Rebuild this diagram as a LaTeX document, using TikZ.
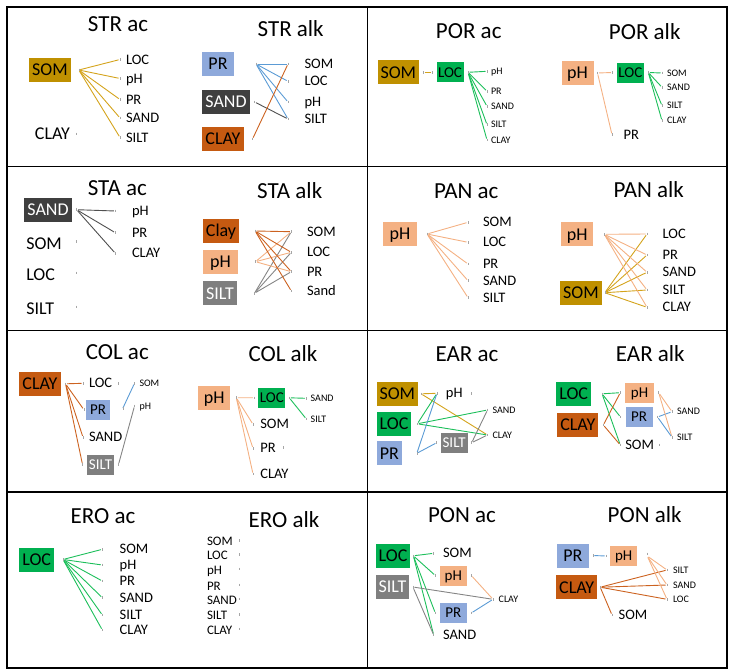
\documentclass[tikz,border=0pt]{standalone}
\usepackage{fontspec}
\setmainfont{Carlito}

\definecolor{cSom}{HTML}{BF9000}
\definecolor{cLoc}{HTML}{00B050}
\definecolor{cPr}{HTML}{8EA9DB}
\definecolor{cSand}{HTML}{3F3F3F}
\definecolor{cClay}{HTML}{C55A11}
\definecolor{cPh}{HTML}{F4B183}
\definecolor{cSilt}{HTML}{7F7F7F}
\definecolor{lSom}{HTML}{D4A31C}
\definecolor{lLoc}{HTML}{1DBF5B}
\definecolor{lPr}{HTML}{5B9BD5}
\definecolor{lSand}{HTML}{505050}
\definecolor{lClay}{HTML}{CC6220}
\definecolor{lPh}{HTML}{F4B183}
\definecolor{lSilt}{HTML}{858585}

\tikzset{
  ttl/.style={font=\fontsize{23}{26}\selectfont},
  bx/.style={fill=#1, inner xsep=3pt, inner ysep=0pt, minimum width=32pt,
    minimum height=24pt, text height=11.6pt, text depth=0pt,
    outer xsep=6pt, outer ysep=0pt, font=\fontsize{18}{20}\selectfont},
  sbx/.style={bx=#1, inner xsep=1.5pt, minimum width=27pt, minimum height=20pt,
    text height=9.7pt, outer xsep=4.5pt, font=\fontsize{15}{17}\selectfont},
  lbl/.style={inner sep=0pt, outer xsep=6pt, outer ysep=0pt, text height=9.3pt,
    text depth=0pt, font=\fontsize{14.5}{16}\selectfont},
  big/.style={lbl, text height=11.6pt, font=\fontsize{18}{20}\selectfont},
  sml/.style={lbl, outer xsep=5pt, text height=6.4pt, font=\fontsize{10}{12}\selectfont},
  mid/.style={lbl, outer xsep=0pt, text height=8.4pt, font=\fontsize{13}{15}\selectfont},
  ln/.style={draw=#1, line width=0.9pt, shorten <=1.5pt, shorten >=1.5pt},
  pmc/.style={draw=black!35, line width=0.5pt},
  tbl/.style={line width=1.2pt}
}
% tiny port tick next to a connector end
\newcommand\pmk[1]{\draw[pmc] (#1) ++(0,-1.3) -- ++(0,2.6);}

\begin{document}
\begin{tikzpicture}[x=1pt,y=-1pt]
\useasboundingbox (0,0) rectangle (732,672);

% table
\draw[tbl] (7,7) rectangle (727,668);
\draw[tbl] (367.5,7) -- (367.5,668);
\foreach \y in {166.5,330.5,492} \draw[tbl] (7,\y) -- (727,\y);

% STR ac
\node[ttl] (str1) at (118,24) {STR ac};
\node[bx=cSom, outer xsep=8pt] (str1som) at (50,70) {SOM};
\node[big, anchor=east] (str1clay) at (76,134) {CLAY};
\foreach \n/\s/\y in {loc/LOC/59.5, ph/pH/78.5, pr/PR/99.5, sand/SAND/118, silt/SILT/137.5}{
  \node[lbl, anchor=west] (str1\n) at (120,\y) {\s};
  \draw[ln=lSom] (str1som.east) -- (str1\n.west);
  \pmk{str1\n.west}
}
\foreach \p in {str1som.east, str1clay.east}{\pmk{\p}}

% STR alk
\node[ttl] (str2) at (290.7,28.7) {STR alk};
\node[bx=cPr, outer xsep=22pt] (str2pr) at (218,64) {PR};
\node[bx=cSand, text=white, outer xsep=5pt] (str2sand) at (226,102) {SAND};
\node[bx=cClay, outer xsep=9pt] (str2clay) at (223,139) {CLAY};
\foreach \n/\s/\y in {som/SOM/64, loc/LOC/81.3, ph/pH/102, silt/SILT/119}{
  \node[lbl, anchor=west, outer xsep=16.5pt] (str2\n) at (288,\y) {\s};
  \draw[ln=lPr] (str2pr.east) -- (str2\n.west);
  \pmk{str2\n.west}
}
\draw[ln=lSand] (str2sand.east) -- (str2silt.west);
\draw[ln=lClay] (str2clay.east) -- (str2som.west);
\foreach \p in {str2pr.east, str2sand.east, str2clay.east}{\pmk{\p}}

% POR ac
\node[ttl] (por1) at (468.7,31.3) {POR ac};
\node[bx=cSom, outer xsep=4pt] (por1som) at (398.3,72.3) {SOM};
\node[sbx=cLoc] (por1loc) at (450,72.3) {LOC};
\draw[ln=lSom] (por1som.east) -- (por1loc.west);
\foreach \n/\s/\y in {ph/pH/71.3, pr/PR/91.3, sand/SAND/106.3, silt/SILT/124.7, clay/CLAY/140}{
  \node[sml, anchor=west, outer xsep=4pt] (por1\n) at (487,\y) {\s};
  \draw[ln=lLoc] (por1loc.east) -- (por1\n.west);
  \pmk{por1\n.west}
}
\foreach \p in {por1som.east, por1loc.west, por1loc.east}{\pmk{\p}}

% POR alk
\node[ttl] (por2) at (644.7,32) {POR alk};
\node[bx=cPh, outer xsep=4pt] (por2ph) at (577.5,73) {pH};
\node[sbx=cLoc] (por2loc) at (630.3,72.5) {LOC};
\node[lbl, anchor=west, outer xsep=11.7pt] (por2pr) at (612,134.7) {PR};
\draw[ln=lPh] (por2ph.east) -- (por2loc.west);
\draw[ln=lPh] (por2ph.east) -- (por2pr.west);
\foreach \n/\s/\y in {som/SOM/73, sand/SAND/87.3, silt/SILT/105.7, clay/CLAY/120.7}{
  \node[sml, anchor=west] (por2\n) at (662,\y) {\s};
  \draw[ln=lLoc] (por2loc.east) -- (por2\n.west);
  \pmk{por2\n.west}
}
\foreach \p in {por2ph.east, por2loc.west, por2loc.east, por2pr.west}{\pmk{\p}}

% STA ac
\node[ttl] (sta1) at (117.3,187.7) {STA ac};
\node[bx=cSand, text=white, outer xsep=5pt] (sta1sand) at (48,209.7) {SAND};
\foreach \n/\s/\y in {ph/pH/211, pr/PR/232.7, clay/CLAY/253.3}{
  \node[lbl, anchor=west, outer xsep=16.7pt] (sta1\n) at (115.3,\y) {\s};
  \draw[ln=lSand] (sta1sand.east) -- (sta1\n.west);
  \pmk{sta1\n.west}
}
\foreach \n/\s/\y in {som/SOM/243.3, loc/LOC/275, silt/SILT/309}{
  \node[big, anchor=west] (sta1\n) at (20.3,\y) {\s};
  \pmk{76.3,\y-2}
}
\pmk{sta1sand.east}

% STA alk
\node[ttl] (sta2) at (289.7,191) {STA alk};
\node[bx=cClay, outer xsep=16pt] (sta2clay) at (221,231) {Clay};
\node[bx=cPh, minimum width=35pt, outer xsep=17.5pt] (sta2ph) at (220.5,261.7) {pH};
\node[bx=cSilt, text=white, outer xsep=17.5pt] (sta2silt) at (220,293.3) {SILT};
\foreach \n/\s/\y in {som/SOM/231.7, loc/LOC/252.3, pr/PR/271.7, sand/Sand/291}{
  \node[lbl, anchor=west, outer xsep=15.7pt] (sta2\n) at (291.3,\y) {\s};
  \pmk{sta2\n.west}
}
\foreach \n in {som,loc,pr}{
  \draw[ln=lPh] (sta2ph.east) -- (sta2\n.west);
  \draw[ln=lSilt] (sta2silt.east) -- (sta2\n.west);
}
\foreach \n in {som,loc,pr,sand}{\draw[ln=lClay] (sta2clay.east) -- (sta2\n.west);}
\foreach \p in {sta2clay.east, sta2ph.east, sta2silt.east}{\pmk{\p}}

% PAN ac
\node[ttl] (pan1) at (466.3,191.7) {PAN ac};
\node[bx=cPh, minimum width=34pt, outer xsep=10pt] (pan1ph) at (400,234) {pH};
\foreach \n/\s/\y in {som/SOM/222.3, loc/LOC/242.3, pr/PR/264, sand/SAND/280.7, silt/SILT/297.7}{
  \node[lbl, anchor=west, outer xsep=15pt] (pan1\n) at (468,\y) {\s};
  \draw[ln=lPh] (pan1ph.east) -- (pan1\n.west);
  \pmk{pan1\n.west}
}
\pmk{pan1ph.east}

% PAN alk
\node[ttl] (pan2) at (648.7,190) {PAN alk};
\node[bx=cPh, outer xsep=11pt] (pan2ph) at (577.3,234.3) {pH};
\node[bx=cSom, outer xsep=3pt] (pan2som) at (581,292.7) {SOM};
\foreach \n/\s/\y in {loc/LOC/234, pr/PR/255, sand/SAND/272.3, silt/SILT/290, clay/CLAY/307.3}{
  \node[lbl, anchor=west, outer xsep=15.7pt] (pan2\n) at (647,\y) {\s};
  \draw[ln=lPh] (pan2ph.east) -- (pan2\n.west);
  \draw[ln=lSom] (pan2som.east) -- (pan2\n.west);
  \pmk{pan2\n.west}
}
\foreach \p in {pan2ph.east, pan2som.east}{\pmk{\p}}

% COL ac
\node[ttl] (col1) at (117.3,351.7) {COL ac};
\node[bx=cClay, outer xsep=5pt] (col1clay) at (40,383.8) {CLAY};
\node[lbl, anchor=west] (col1loc) at (83,383.3) {LOC};
\node[sbx=cPr, minimum width=24.5pt, outer xsep=2pt] (col1pr) at (98,409.5) {PR};
\node[lbl, anchor=west] (col1sand) at (83,437.3) {SAND};
\node[sbx=cSilt, text=white] (col1silt) at (100.5,464.5) {SILT};
\node[sml, anchor=west] (col1som) at (134.5,383.3) {SOM};
\node[sml, anchor=west] (col1ph) at (134.5,406) {pH};
\foreach \n in {loc,pr,sand,silt}{
  \draw[ln=lClay] (col1clay.east) -- (col1\n.west);
  \pmk{col1\n.west}
}
\draw[ln=lPr] ([xshift=10pt]col1pr.east) -- (col1som.west);
\draw[ln=lSilt] (col1silt.east) -- (col1ph.west);
\foreach \p in {col1clay.east, col1loc.east, col1silt.east, col1som.west, col1ph.west}{\pmk{\p}}
\pmk{123,408.3}

% COL alk
\node[ttl] (col2) at (283,354) {COL alk};
\node[bx=cPh] (col2ph) at (214.3,397.7) {pH};
\node[sbx=cLoc, outer xsep=4pt] (col2loc) at (271.8,397.8) {LOC};
\draw[ln=lPh] (col2ph.east) -- (col2loc.west);
\foreach \n/\s/\y in {som/SOM/424.3, pr/PR/448.3, clay/CLAY/474}{
  \node[lbl, anchor=west, outer xsep=7.3pt] (col2\n) at (253,\y) {\s};
  \draw[ln=lPh] (col2ph.east) -- (col2\n.west);
  \pmk{col2\n.west}
  \pmk{283,\y-1}
}
\foreach \n/\s/\y in {sand/SAND/398.3, silt/SILT/419}{
  \node[sml, anchor=west, outer xsep=4.4pt] (col2\n) at (306.3,\y) {\s};
  \draw[ln=lLoc] (col2loc.east) -- (col2\n.west);
  \pmk{col2\n.west}
}
\foreach \p in {col2ph.east, col2loc.west, col2loc.east}{\pmk{\p}}

% EAR ac
\node[ttl] (ear1) at (467,354) {EAR ac};
\node[bx=cSom, outer xsep=3pt] (ear1som) at (397.3,393.8) {SOM};
\node[bx=cLoc] (ear1loc) at (394,423.8) {LOC};
\node[bx=cPr, minimum width=0pt, outer xsep=15pt] (ear1pr) at (389.3,453.3) {PR};
\node[lbl, outer xsep=9pt] (ear1ph) at (454.3,393.3) {pH};
\node[sbx=cSilt, text=white, outer xsep=4pt] (ear1silt) at (454.2,442.7) {SILT};
\node[sml, anchor=west] (ear1sand) at (487.5,410) {SAND};
\node[sml, anchor=west] (ear1clay) at (487.5,435) {CLAY};
\draw[ln=lSom] (ear1som.east) -- (ear1ph.west);
\draw[ln=lSom] (ear1som.east) -- (ear1clay.west);
\foreach \n in {ph,sand,clay}{\draw[ln=lLoc] (ear1loc.east) -- (ear1\n.west);}
\foreach \n in {ph,silt}{\draw[ln=lPr] (ear1pr.east) -- (ear1\n.west);}
\foreach \n in {sand,clay}{\draw[ln=lSilt] (ear1silt.east) -- (ear1\n.west);}
\foreach \p in {ear1som.east, ear1loc.east, ear1pr.east, ear1ph.west, ear1ph.east,
  ear1silt.west, ear1silt.east, ear1sand.west, ear1clay.west}{\pmk{\p}}

% EAR alk
\node[ttl] (ear2) at (650.3,354) {EAR alk};
\node[bx=cLoc, outer xsep=11pt] (ear2loc) at (573.7,393.8) {LOC};
\node[bx=cClay, outer xsep=5pt] (ear2clay) at (577.8,425) {CLAY};
\node[sbx=cPh, minimum width=28.4pt, outer xsep=5pt] (ear2ph) at (639.5,392.7) {pH};
\node[sbx=cPr, outer xsep=5pt] (ear2pr) at (639,417) {PR};
\node[lbl, anchor=west, outer xsep=5pt] (ear2som) at (620.3,445) {SOM};
\node[sml, anchor=west] (ear2sand) at (672,411.7) {SAND};
\node[sml, anchor=west] (ear2silt) at (672,437.3) {SILT};
\foreach \n in {ph,pr,som}{\draw[ln=lLoc] (ear2loc.east) -- (ear2\n.west);}
\foreach \n in {ph,som}{\draw[ln=lClay] (ear2clay.east) -- (ear2\n.west);}
\foreach \n in {sand,silt}{
  \draw[ln=lPh] (ear2ph.east) -- (ear2\n.west);
  \draw[ln=lPr] (ear2pr.east) -- (ear2\n.west);
}
\foreach \p in {ear2loc.east, ear2clay.east, ear2ph.west, ear2ph.east, ear2pr.west,
  ear2pr.east, ear2som.west, ear2som.east, ear2sand.west, ear2silt.west}{\pmk{\p}}

% ERO ac
\node[ttl] (ero1) at (103,516) {ERO ac};
\node[bx=cLoc, outer xsep=9pt] (ero1loc) at (36.7,559.5) {LOC};
\foreach \n/\s/\y in {som/SOM/549.3, ph/pH/565, pr/PR/581, sand/SAND/597.7, silt/SILT/615, clay/CLAY/630}{
  \node[lbl, anchor=west, outer xsep=17.4pt] (ero1\n) at (102.3,\y) {\s};
  \draw[ln=lLoc] (ero1loc.east) -- (ero1\n.west);
  \pmk{ero1\n.west}
}
\pmk{ero1loc.east}

% ERO alk
\node[ttl] (ero2) at (284,520) {ERO alk};
\foreach \n/\s/\y in {som/SOM/541.7, loc/LOC/555.7, ph/pH/570, pr/PR/586, sand/SAND/600, silt/SILT/615.7, clay/CLAY/630}{
  \node[mid, anchor=west] (ero2\n) at (207,\y) {\s};
  \pmk{239.7,\y-1}
}

% PON ac
\node[ttl] (pon1) at (462,515) {PON ac};
\node[bx=cLoc, outer xsep=3pt] (pon1loc) at (393,555.8) {LOC};
\node[bx=cSilt, text=white, outer xsep=3.5pt] (pon1silt) at (392.5,587) {SILT};
\node[lbl, anchor=west, outer xsep=9.3pt] (pon1som) at (433.7,553.3) {SOM};
\node[sbx=cPh] (pon1ph) at (453.3,575.5) {pH};
\node[sbx=cPr] (pon1pr) at (453.3,613) {PR};
\node[lbl, anchor=west, outer xsep=9.3pt] (pon1sand) at (433.7,635) {SAND};
\node[sml, anchor=west, outer xsep=5.7pt] (pon1clay) at (493,599.3) {CLAY};
\foreach \n in {som,ph,pr,sand}{\draw[ln=lLoc] (pon1loc.east) -- (pon1\n.west);}
\foreach \n in {clay,sand}{\draw[ln=lSilt] (pon1silt.east) -- (pon1\n.west);}
\draw[ln=lPh] (pon1ph.east) -- (pon1clay.west);
\draw[ln=lPr] (pon1pr.east) -- (pon1clay.west);
\foreach \p in {pon1loc.east, pon1silt.east, pon1som.west, pon1ph.west, pon1ph.east,
  pon1pr.west, pon1pr.east, pon1sand.west, pon1clay.west}{\pmk{\p}}

% PON alk
\node[ttl] (pon2) at (644.7,515) {PON alk};
\node[bx=cPr, outer xsep=4pt] (pon2pr) at (572.8,555.5) {PR};
\node[sbx=cPh, outer xsep=4pt] (pon2ph) at (623.7,556) {pH};
\node[bx=cClay, outer xsep=3pt] (pon2clay) at (576.7,587.2) {CLAY};
\node[lbl, anchor=west, outer xsep=6.7pt] (pon2som) at (612,615) {SOM};
\draw[ln=lPr] (pon2pr.east) -- (pon2ph.west);
\draw[ln=lClay] (pon2clay.east) -- (pon2som.west);
\foreach \n/\s/\y in {silt/SILT/570, sand/SAND/585, loc/LOC/599.3}{
  \node[sml, anchor=west, outer xsep=6pt] (pon2\n) at (667,\y) {\s};
  \draw[ln=lClay] (pon2clay.east) -- (pon2\n.west);
  \draw[ln=lPh] ([xshift=6pt]pon2ph.east) -- (pon2\n.west);
  \pmk{pon2\n.west}
}
\foreach \p in {pon2pr.east, pon2ph.west, pon2clay.east, pon2som.west}{\pmk{\p}}
\pmk{647,554}
\end{tikzpicture}
\end{document}
